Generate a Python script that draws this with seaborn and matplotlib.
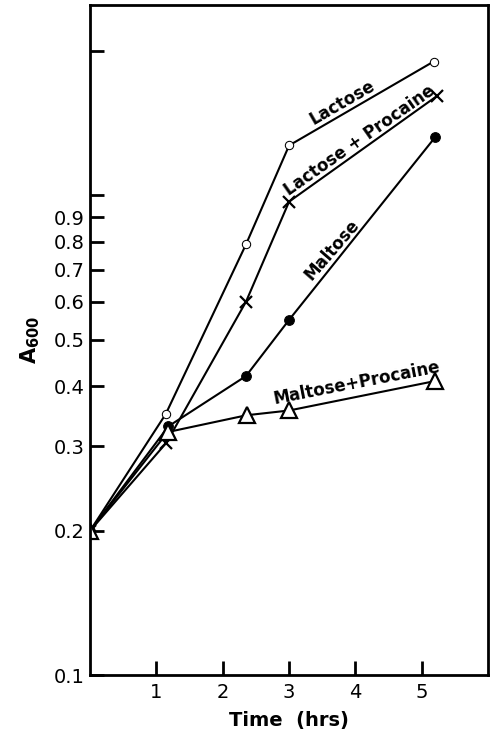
import numpy as np
import pandas as pd
import matplotlib
matplotlib.use("Agg")
import matplotlib.pyplot as plt
import seaborn as sns

# values (time in hrs, absorbance at 600 nm)
lactose_t = [0.0, 1.14, 2.35, 3.0, 5.18]
lactose_a = [0.20, 0.35, 0.79, 1.27, 1.90]

lac_proc_t = [0.0, 1.15, 2.35, 3.0, 5.23]
lac_proc_a = [0.20, 0.305, 0.60, 0.97, 1.61]

maltose_t = [0.0, 1.18, 2.35, 3.0, 5.2]
maltose_a = [0.20, 0.33, 0.42, 0.55, 1.32]

mal_proc_t = [0.0, 1.17, 2.36, 3.0, 5.2]
mal_proc_a = [0.20, 0.321, 0.348, 0.356, 0.41]

y_ticks = [0.1, 0.2, 0.3, 0.4, 0.5, 0.6, 0.7, 0.8, 0.9, 1.0, 2.0]
y_tick_labels = ["0.1", "0.2", "0.3", "0.4", "0.5", "0.6", "0.7", "0.8", "0.9", "", ""]
x_ticks = [1, 2, 3, 4, 5]

series = [
    ("Lactose", lactose_t, lactose_a, dict(marker="o", markersize=6, markerfacecolor="white")),
    ("Lactose + Procaine", lac_proc_t, lac_proc_a, dict(marker="x", markersize=8, markeredgewidth=1.6)),
    ("Maltose", maltose_t, maltose_a, dict(marker="o", markersize=7, markerfacecolor="black")),
    ("Maltose+Procaine", mal_proc_t, mal_proc_a, dict(marker="^", markersize=11, markerfacecolor="white", markeredgewidth=1.6)),
]

sns.set_style("white")
plt.rcParams["font.family"] = ["DejaVu Sans"]
plt.rcParams["text.color"] = "black"
plt.rcParams["axes.labelcolor"] = "black"

fig = plt.figure(figsize=(4.9, 7.37), dpi=100)
ax = fig.add_axes([0.184, 0.084, 0.812, 0.909])

for name, t, a, style in series:
    df = pd.DataFrame({"time": t, "a600": a})
    sns.lineplot(data=df, x="time", y="a600", ax=ax, color="black",
                 linewidth=1.5, markeredgecolor="black", **style)

ax.set_yscale("log")
ax.set_xlim(0, 6.0)
ax.set_ylim(0.1, 2.49)
ax.set_yticks(y_ticks)
ax.set_yticklabels(y_tick_labels)
ax.yaxis.set_minor_locator(matplotlib.ticker.NullLocator())
ax.set_xticks(x_ticks)
ax.set_xticklabels([str(v) for v in x_ticks])

ax.tick_params(axis="both", direction="in", length=10, width=2, labelsize=14,
               colors="black", left=True, bottom=True)
ax.tick_params(axis="y", pad=4)
ax.tick_params(axis="x", pad=6)
for sp in ax.spines.values():
    sp.set_visible(True)
    sp.set_linewidth(2)
    sp.set_color("black")

ax.set_xlabel("Time  (hrs)", fontsize=14, fontweight="bold", labelpad=6)
ax.set_ylabel(r"A$_{\mathbf{600}}$", fontsize=15, fontweight="bold", labelpad=8)

# labels along each curve
lab = dict(fontsize=12, fontweight="bold", ha="center", va="center",
           rotation_mode="anchor", color="black")
ax.text(3.80, 1.56, "Lactose", rotation=30, **lab)
ax.text(4.06, 1.30, "Lactose + Procaine", rotation=35, **lab)
ax.text(3.64, 0.77, "Maltose", rotation=49, **lab)
ax.text(4.02, 0.406, "Maltose+Procaine", rotation=11, **lab)

fig.savefig("out.png", dpi=100)
